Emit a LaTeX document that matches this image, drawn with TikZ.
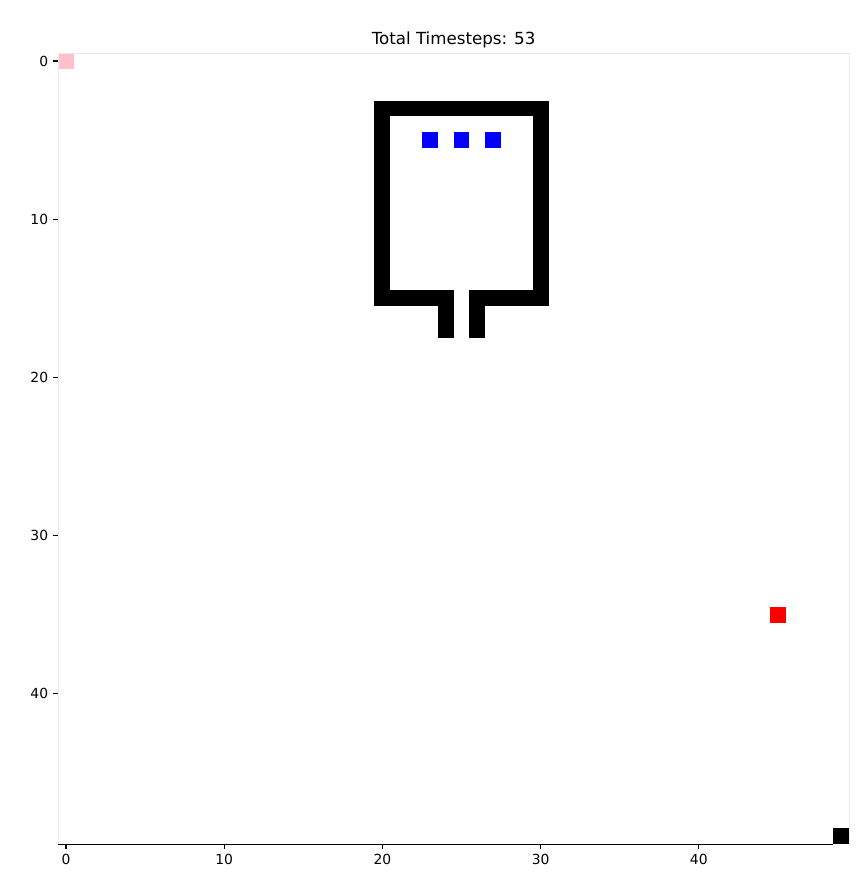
\documentclass[tikz,border=0pt]{standalone}
\usepackage{fontspec}
\setmainfont{DejaVu Sans}
\usepackage{xcolor}
\usepackage{tikz}
\usetikzlibrary{positioning}

\definecolor{spinegray}{HTML}{EBEBEB}
\definecolor{agentblue}{HTML}{0000FF}
\definecolor{goalred}{HTML}{FF0000}
\definecolor{startpink}{HTML}{FFC0CB}

\begin{document}
\begin{tikzpicture}[
  x=0.72pt, y=-0.72pt,
  ticklab/.style={font=\fontsize{10}{12}\selectfont, inner sep=0pt},
  tickmark/.style={line width=0.8pt, black},
  wall/.style={fill=black},
]
\useasboundingbox (0,0) rectangle (858,875);

% grid cells (one unit = one cell)
\begin{scope}[shift={(58.1,53.1)}, x=11.39pt, y=-11.39pt]
  \fill[startpink] (0,0) rectangle (1,1);
  \foreach \a/\b/\c/\d in {20/3/31/4, 20/3/21/16, 30/3/31/16, 20/15/25/16,
                           26/15/31/16, 24/15/25/18, 26/15/27/18, 49/49/50/50}
    \fill[wall] (\a,\b) rectangle (\c,\d);
  \foreach \c in {23,25,27}
    \fill[agentblue] (\c,5) rectangle ++(1,1);
  \fill[goalred] (45,35) rectangle (46,36);
  % spines
  \draw[spinegray, line width=0.8pt] (0,50) -- (0,0) -- (50,0) -- (50,50);
  \draw[black, line width=0.8pt] (0,50) -- (49,50);
  % ticks
  \foreach \t in {0,10,20,30,40} {
    \coordinate (xt\t) at (\t+0.5,50);
    \coordinate (yt\t) at (0,\t+0.5);
    \draw[tickmark] (xt\t) -- ++(0,0.31);
    \draw[tickmark] (yt\t) -- ++(-0.31,0);
    \node[ticklab, anchor=base] (xl\t) at ([yshift=-14.5pt]xt\t) {\t};
    \node[ticklab, anchor=base east] (yl\t) at ([xshift=-7pt, yshift=-3.6pt]yt\t) {\t};
  }
\end{scope}

\node[font=\fontsize{12}{14}\selectfont, inner sep=0pt, anchor=base] (title) at (453.6,44) {Total Timesteps: 53};
\end{tikzpicture}
\end{document}
